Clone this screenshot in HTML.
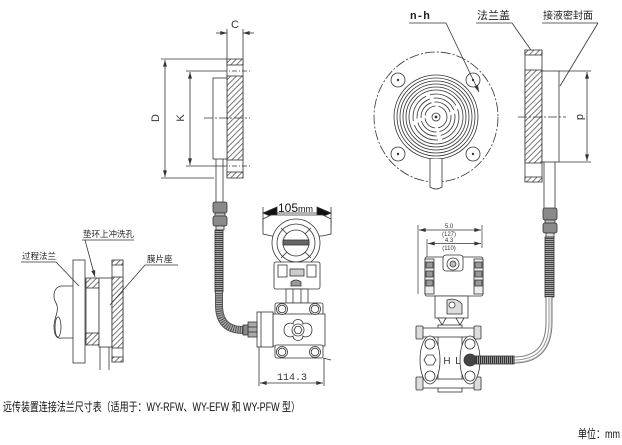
<!DOCTYPE html>
<html><head><meta charset="utf-8"><style>
html,body{margin:0;padding:0;background:#fff;width:622px;height:445px;overflow:hidden}
svg{display:block}
</style></head><body>
<svg width="622" height="445" viewBox="0 0 622 445" xmlns="http://www.w3.org/2000/svg" font-family="'Liberation Sans','WenQuanYi Zen Hei',sans-serif">
<defs>
<pattern id="h" width="4" height="4" patternUnits="userSpaceOnUse" patternTransform="rotate(45)"><rect width="4" height="4" fill="#fff"/><line x1="1" y1="0" x2="1" y2="4" stroke="#555" stroke-width="0.8"/></pattern>
<pattern id="cv" width="8" height="2" patternUnits="userSpaceOnUse"><rect width="8" height="2" fill="#aaa"/><line x1="0" y1="0.5" x2="8" y2="0.5" stroke="#444" stroke-width="1"/></pattern>
<pattern id="ch" width="2" height="8" patternUnits="userSpaceOnUse"><rect width="2" height="8" fill="#999"/><line x1="0.5" y1="0" x2="0.5" y2="8" stroke="#333" stroke-width="1"/></pattern>
<marker id="ar" viewBox="0 0 10 6" refX="10" refY="3" markerWidth="7" markerHeight="4" markerUnits="userSpaceOnUse" orient="auto-start-reverse"><path d="M0,0 L10,3 L0,6 z" fill="#333"/></marker>
</defs>

<!-- ===== Left flange section (top) ===== -->
<g stroke="#333" stroke-width="0.8" fill="none">
  <line x1="227" y1="29" x2="227" y2="59"/>
  <line x1="243" y1="29" x2="243" y2="59"/>
  <line x1="216" y1="33" x2="227" y2="33" marker-end="url(#ar)"/>
  <line x1="254" y1="33" x2="243" y2="33" marker-end="url(#ar)"/>
  <line x1="227" y1="59" x2="227" y2="178"/>
  <line x1="243" y1="59" x2="243" y2="178"/>
  <rect x="227" y="59" width="16" height="6" fill="url(#h)"/>
  <rect x="227" y="76" width="16" height="84" fill="url(#h)"/>
  <rect x="227" y="172" width="16" height="6" fill="url(#h)"/>
  <rect x="213" y="78" width="14" height="81" fill="#fff"/>
  <line x1="204" y1="118" x2="250" y2="118" stroke-dasharray="9 2 2 2"/>
  <line x1="222" y1="71" x2="250" y2="71" stroke-dasharray="5 2 1 2"/>
  <line x1="222" y1="166" x2="250" y2="166" stroke-dasharray="5 2 1 2"/>
  <line x1="161" y1="59" x2="227" y2="59"/>
  <line x1="161" y1="178" x2="214" y2="178"/>
  <line x1="165" y1="60" x2="165" y2="177" marker-start="url(#ar)" marker-end="url(#ar)"/>
  <line x1="186" y1="71" x2="222" y2="71"/>
  <line x1="186" y1="166" x2="222" y2="166"/>
  <line x1="190" y1="72" x2="190" y2="165" marker-start="url(#ar)" marker-end="url(#ar)"/>
  <line x1="216" y1="159" x2="216" y2="202"/>
  <line x1="223" y1="159" x2="223" y2="202"/>
</g>
<text x="235" y="28" font-size="11" text-anchor="middle" fill="#333">C</text>
<text transform="translate(159,118) rotate(-90)" font-size="11" text-anchor="middle" fill="#333">D</text>
<text transform="translate(184,118) rotate(-90)" font-size="11" text-anchor="middle" fill="#333">K</text>

<!-- left connector + hose -->
<g stroke="#333" stroke-width="0.8">
  <rect x="213" y="202" width="14" height="11" rx="2" fill="#8a8a8a"/>
  <rect x="215" y="213" width="10" height="3" fill="#bbb"/>
  <rect x="213" y="216" width="14" height="10" rx="2" fill="#8a8a8a"/>
  <rect x="216" y="226" width="8" height="4" fill="#ddd"/>
  <rect x="215" y="230" width="8" height="62" fill="url(#cv)"/>
</g>
<path d="M219,292 L219,305 Q219,330 243,330" fill="none" stroke="#555" stroke-width="8"/>
<path d="M219,292 L219,305 Q219,330 243,330" fill="none" stroke="#bbb" stroke-width="6" stroke-dasharray="1 1.2"/>

<!-- ===== Left transmitter ===== -->
<g stroke="#333" stroke-width="0.8" fill="#fff">
  <line x1="263" y1="207" x2="263" y2="228" fill="none"/>
  <line x1="331" y1="207" x2="331" y2="228" fill="none"/>
  <line x1="270" y1="213" x2="324" y2="213"/>
  <path d="M263,213 L277,207 L277,219 Z" fill="#111"/>
  <path d="M331,213 L317,207 L317,219 Z" fill="#111"/>
  <path d="M263,219 L271,215 L323,215 L331,219 L331,234 L322,236 L272,236 L263,234 Z"/>
  <circle cx="296" cy="243" r="24"/>
  <circle cx="296" cy="243" r="19" fill="none"/>
  <circle cx="296" cy="243" r="13" fill="none"/>
  <line x1="281" y1="228" x2="287" y2="234" fill="none"/>
  <line x1="311" y1="228" x2="305" y2="234" fill="none"/>
  <line x1="281" y1="258" x2="287" y2="252" fill="none"/>
  <line x1="311" y1="258" x2="305" y2="252" fill="none"/>
  <rect x="283" y="240" width="26" height="5" fill="#666"/>
  <rect x="274" y="262" width="46" height="27" rx="2"/>
  <rect x="278" y="265" width="9" height="12" fill="none"/>
  <rect x="307" y="265" width="9" height="12" fill="none"/>
  <rect x="290" y="269" width="14" height="7" fill="#ccc"/>
  <path d="M291,282 Q296,278 301,282 L301,286 L291,286 Z" fill="#999"/>
  <rect x="286" y="289" width="22" height="14"/>
  <line x1="293" y1="289" x2="293" y2="303"/>
  <line x1="301" y1="289" x2="301" y2="303"/>
  <rect x="275" y="303" width="48" height="12" rx="2"/>
  <rect x="273" y="314" width="52" height="32"/>
  <rect x="257" y="312" width="16" height="35"/>
  <line x1="261" y1="312" x2="261" y2="347"/>
  <rect x="248" y="322" width="9" height="15" fill="#aaa"/>
  <line x1="248" y1="327" x2="257" y2="327"/>
  <line x1="248" y1="332" x2="257" y2="332"/>
  <rect x="243" y="325" width="5" height="10" fill="#888"/>
  <rect x="275" y="345" width="48" height="13" rx="2"/>
  <circle cx="282" cy="309" r="5.5"/><circle cx="282" cy="309" r="3.8" fill="none"/>
  <circle cx="315" cy="309" r="5.5"/><circle cx="315" cy="309" r="3.8" fill="none"/>
  <circle cx="282" cy="352" r="5.5"/><circle cx="282" cy="352" r="3.8" fill="none"/>
  <circle cx="315" cy="352" r="5.5"/><circle cx="315" cy="352" r="3.8" fill="none"/>
  <path d="M284,330 C284,323 291,322 293,324 C293,318 303,318 303,324 C305,322 312,323 312,330 C312,337 305,338 303,336 C303,342 293,342 293,336 C291,338 284,337 284,330 Z"/>
  <circle cx="298" cy="330" r="6" fill="none"/>
  <path d="M294,330 L296,326.5 L300,326.5 L302,330 L300,333.5 L296,333.5 Z" fill="none"/>
  <line x1="259" y1="347" x2="259" y2="386" fill="none"/>
  <line x1="324" y1="358" x2="324" y2="386" fill="none"/>
  <line x1="323" y1="358" x2="331" y2="360" fill="none"/>
  <line x1="260" y1="383" x2="323" y2="383" marker-start="url(#ar)" marker-end="url(#ar)" fill="none"/>
</g>
<text x="292" y="380" font-size="10" text-anchor="middle" font-family="'Liberation Mono',monospace" fill="#333">114.3</text>
<text x="278" y="212" font-size="12" fill="#111">105<tspan font-size="9">mm</tspan></text>

<!-- ===== Right flange front view ===== -->
<g stroke="#333" stroke-width="0.8" fill="none">
  <ellipse cx="436" cy="117" rx="62" ry="65" stroke-dasharray="10 2 2 2"/>
  <circle cx="436" cy="117" r="42" fill="#fff"/>
  <circle cx="436" cy="117" r="39"/>
  <circle cx="436" cy="117" r="36"/>
  <circle cx="436" cy="117" r="33"/>
  <circle cx="436" cy="117" r="30"/>
  <circle cx="436" cy="117" r="27"/>
  <circle cx="436" cy="117" r="23" stroke-dasharray="30 4"/>
  <circle cx="436" cy="117" r="19" stroke-dasharray="25 4"/>
  <circle cx="436" cy="117" r="15" stroke-dasharray="20 3"/>
  <circle cx="436" cy="117" r="11" stroke-dasharray="15 3"/>
  <circle cx="436" cy="117" r="4"/>
  <circle cx="436" cy="117" r="1" fill="#333"/>
  <circle cx="398" cy="80" r="7" fill="#fff"/><circle cx="398" cy="80" r="0.8" fill="#333"/>
  <circle cx="473" cy="80" r="7" fill="#fff"/><circle cx="473" cy="80" r="0.8" fill="#333"/>
  <circle cx="398" cy="154" r="7" fill="#fff"/><circle cx="398" cy="154" r="0.8" fill="#333"/>
  <circle cx="473" cy="154" r="7" fill="#fff"/><circle cx="473" cy="154" r="0.8" fill="#333"/>
  <path d="M430,159 L430,187 Q436,191 442,187 L442,159" fill="#fff"/>
  <line x1="409" y1="23" x2="446" y2="23"/>
  <line x1="446" y1="23" x2="479" y2="92" marker-end="url(#ar)"/>
  <line x1="476" y1="23" x2="512" y2="23"/>
  <line x1="512" y1="23" x2="533" y2="53"/>
  <line x1="542" y1="23" x2="598" y2="23"/>
  <line x1="598" y1="23" x2="560" y2="86"/>
  <line x1="525" y1="50" x2="525" y2="182"/>
  <line x1="542" y1="50" x2="542" y2="182"/>
  <rect x="525" y="50" width="17" height="5" fill="url(#h)"/>
  <rect x="525" y="70" width="17" height="93" fill="url(#h)"/>
  <rect x="525" y="177" width="17" height="5" fill="url(#h)"/>
  <rect x="542" y="71" width="17" height="91" fill="#fff"/>
  <line x1="518" y1="117" x2="566" y2="117" stroke-dasharray="9 2 2 2"/>
  <line x1="559" y1="71" x2="591" y2="71"/>
  <line x1="559" y1="162" x2="591" y2="162"/>
  <line x1="587" y1="72" x2="587" y2="161" marker-start="url(#ar)" marker-end="url(#ar)"/>
  <line x1="544" y1="162" x2="544" y2="208"/>
  <line x1="555" y1="162" x2="555" y2="208"/>
</g>
<text x="410" y="19" font-size="11" font-weight="bold" font-family="'Liberation Mono',monospace" fill="#222">n-h</text>
<text x="477" y="19" font-size="11" fill="#222">法兰盖</text>
<text x="543" y="19" font-size="10" fill="#222">接液密封面</text>
<text transform="translate(577,117) rotate(90)" font-size="11" text-anchor="middle" fill="#333">d</text>

<!-- right connector + hose -->
<g stroke="#333" stroke-width="0.8">
  <rect x="543" y="208" width="14" height="12" rx="2" fill="#8a8a8a"/>
  <rect x="545" y="220" width="10" height="3" fill="#bbb"/>
  <rect x="543" y="223" width="14" height="10" rx="2" fill="#8a8a8a"/>
  <rect x="546" y="233" width="8" height="4" fill="#ddd"/>
  <rect x="545" y="237" width="9" height="60" fill="url(#cv)"/>
</g>
<path d="M549,297 L549,322 Q549,360 514,360" fill="none" stroke="#777" stroke-width="7"/>
<path d="M549,297 L549,322 Q549,360 514,360" fill="none" stroke="#fff" stroke-width="5"/>
<path d="M549,297 L549,322 Q549,360 514,360" fill="none" stroke="#999" stroke-width="1"/>
<path d="M551,297 L551,322 Q551,362 514,362" fill="none" stroke="#bbb" stroke-width="0.6"/>

<!-- ===== Right transmitter ===== -->
<g stroke="#333" stroke-width="0.7" fill="none">
  <line x1="418" y1="225" x2="418" y2="294"/>
  <line x1="482" y1="225" x2="482" y2="248"/>
  <line x1="427" y1="239" x2="427" y2="258"/>
  <line x1="419" y1="230" x2="481" y2="230" marker-start="url(#ar)" marker-end="url(#ar)"/>
  <line x1="428" y1="243.5" x2="481" y2="243.5" marker-start="url(#ar)" marker-end="url(#ar)"/>
</g>
<g font-size="6" text-anchor="middle" fill="#333">
  <text x="449" y="228">5.0</text>
  <text x="449" y="236">(127)</text>
  <text x="449" y="242">4.3</text>
  <text x="449" y="250">(110)</text>
</g>
<g stroke="#333" stroke-width="0.8" fill="#fff">
  <rect x="425" y="257" width="58" height="39" rx="2"/>
  <rect x="425" y="259" width="9" height="35" fill="#eee"/>
  <rect x="474" y="259" width="9" height="35" fill="#eee"/>
  <rect x="426" y="262" width="7" height="6" fill="#999"/>
  <rect x="426" y="271" width="7" height="6" fill="#999"/>
  <rect x="426" y="280" width="7" height="6" fill="#999"/>
  <rect x="475" y="262" width="7" height="6" fill="#999"/>
  <rect x="475" y="271" width="7" height="6" fill="#999"/>
  <rect x="475" y="280" width="7" height="6" fill="#999"/>
  <rect x="443" y="255" width="20" height="16" rx="3"/>
  <circle cx="453" cy="264" r="6"/>
  <circle cx="453" cy="264" r="3" fill="#bbb"/>
  <path d="M435,296 L468,296 L468,318 L435,318 Z"/>
  <path d="M447,300 Q456,297 462,304 L462,314 L447,314 Z" fill="#ddd"/>
  <circle cx="452" cy="305" r="3"/>
  <path d="M438,318 L446,318 L442,325 Z"/>
  <path d="M456,318 L464,318 L460,325 Z"/>
  <rect x="438" y="325" width="24" height="67"/>
  <rect x="417" y="328" width="63" height="9"/>
  <rect x="417" y="379" width="63" height="9"/>
  <rect x="416" y="326" width="7" height="13" rx="1" fill="#ddd"/>
  <rect x="474" y="326" width="7" height="13" rx="1" fill="#ddd"/>
  <rect x="416" y="377" width="7" height="13" rx="1" fill="#ddd"/>
  <rect x="474" y="377" width="7" height="13" rx="1" fill="#ddd"/>
  <ellipse cx="430" cy="360" rx="10" ry="24"/>
  <ellipse cx="470" cy="360" rx="10" ry="24"/>
  <circle cx="430" cy="344" r="5"/>
  <circle cx="430" cy="376" r="5"/>
  <circle cx="470" cy="344" r="5"/>
  <circle cx="470" cy="376" r="5"/>
  <path d="M424,360 L427,355 L433,355 L436,360 L433,365 L427,365 Z"/>
  <rect x="474" y="356" width="40" height="8" fill="url(#ch)"/>
  <circle cx="470" cy="360" r="6" fill="#444"/>
</g>
<text x="447" y="364" font-size="10" text-anchor="middle" fill="#333">H</text>
<text x="458" y="364" font-size="10" text-anchor="middle" fill="#333">L</text>

<!-- ===== Left installation figure ===== -->
<g stroke="#333" stroke-width="0.8" fill="none">
  <path d="M73,286 L61,286 C54,287 52,296 56,303 C60,310 54,318 54,326 C54,336 57,339 62,338 L73,338"/>
  <ellipse cx="58" cy="327" rx="3" ry="10"/>
  <rect x="73" y="260" width="12" height="103" fill="#fff"/>
  <line x1="86" y1="278" x2="86" y2="345"/>
  <line x1="99" y1="278" x2="99" y2="345"/>
  <rect x="86" y="278" width="13" height="10" fill="url(#h)"/>
  <rect x="86" y="333" width="13" height="12" fill="url(#h)"/>
  <rect x="99" y="278" width="13" height="69" fill="#fff"/>
  <line x1="112" y1="260" x2="112" y2="362"/>
  <line x1="123" y1="260" x2="123" y2="362"/>
  <rect x="112" y="260" width="11" height="5" fill="url(#h)"/>
  <rect x="112" y="277" width="11" height="71" fill="url(#h)"/>
  <rect x="112" y="357" width="11" height="5" fill="url(#h)"/>
  <line x1="100" y1="347" x2="100" y2="370"/>
  <line x1="109" y1="347" x2="109" y2="370"/>
  <line x1="82" y1="240" x2="134" y2="240"/>
  <line x1="85" y1="240" x2="95" y2="277" marker-end="url(#ar)"/>
  <line x1="21" y1="262" x2="56" y2="262"/>
  <line x1="56" y1="262" x2="79" y2="286"/>
  <line x1="145" y1="265" x2="178" y2="265"/>
  <line x1="145" y1="265" x2="110" y2="305"/>
</g>
<g font-size="8.5" fill="#222">
  <text x="83" y="237">垫环上冲洗孔</text>
  <text x="22" y="259">过程法兰</text>
  <text x="147" y="262">膜片座</text>
</g>

<!-- ===== Bottom captions ===== -->
<text x="3" y="411" font-size="12" fill="#111" textLength="297" lengthAdjust="spacingAndGlyphs">远传装置连接法兰尺寸表（适用于：WY-RFW、WY-EFW 和 WY-PFW 型）</text>
<text x="578" y="438" font-size="12" fill="#111" textLength="42" lengthAdjust="spacingAndGlyphs">单位：mm</text>
</svg>
</body></html>
